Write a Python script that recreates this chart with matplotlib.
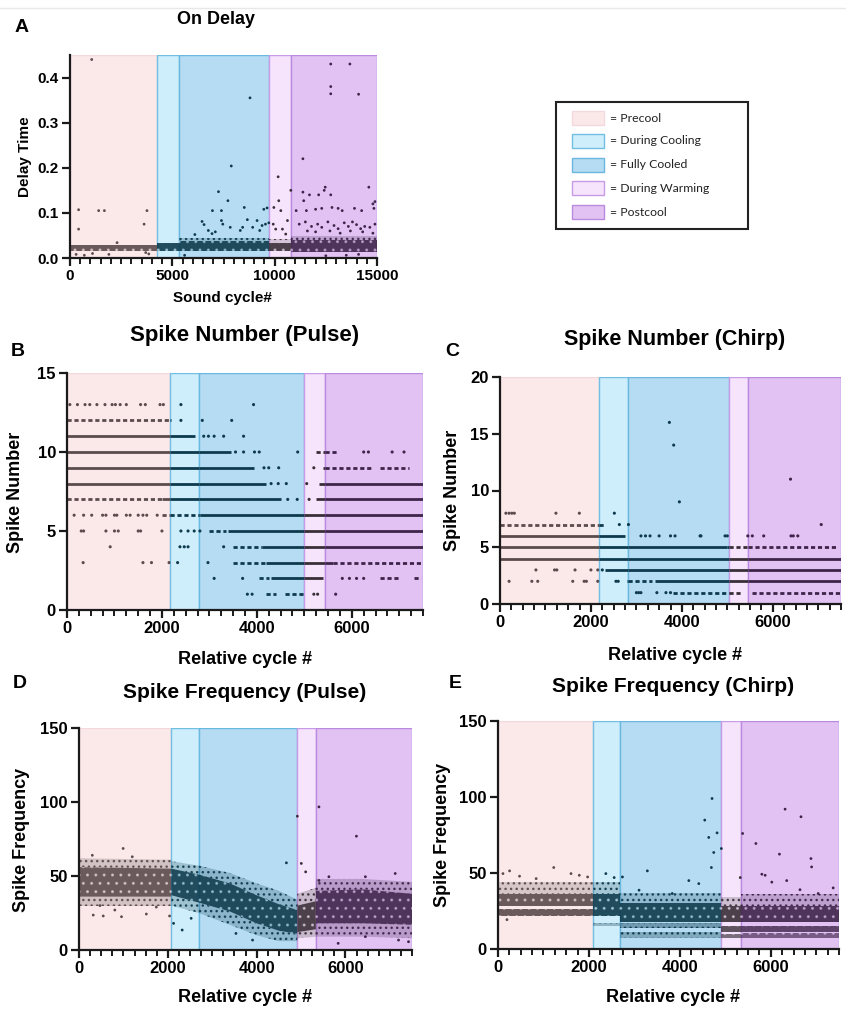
import numpy as np
import matplotlib
matplotlib.use("Agg")
import matplotlib.pyplot as plt
from matplotlib.patches import Rectangle
from matplotlib.lines import Line2D
from matplotlib.ticker import MultipleLocator
from matplotlib.colors import to_rgba

plt.rcParams['font.family'] = ['Liberation Sans', 'DejaVu Sans']
plt.rcParams['hatch.linewidth'] = 1.0

# phase shading
phase_names = ['Precool', 'During Cooling', 'Fully Cooled', 'During Warming', 'Postcool']
phase_fill = ['#fbe9ea', '#cfeefb', '#b5dcf3', '#f5e4fb', '#e1c2f3']
phase_edge = ['#f3d9dc', '#71c0e4', '#6ab7e0', '#c89be6', '#bb8ae0']
point_col = ['#5a4b4c', '#0d3a4c', '#0d3a4c', '#3a2f38', '#3e2449']

bounds_a = [0, 4240, 5320, 9730, 10810, 15000]
bounds_b = [0, 2160, 2785, 5000, 5425, 7500]
bounds_c = [0, 2180, 2805, 5030, 5450, 7500]
bounds_d = [0, 2077, 2697, 4916, 5335, 7500]
bounds_e = [0, 2080, 2693, 4913, 5336, 7500]

# ---- A: on delay ----
# dense band per phase: (lo, hi, density)
a_bands = [
    [(0.016, 0.028, 0.9)],
    [(0.015, 0.033, 0.9)],
    [(0.015, 0.037, 0.9), (0.037, 0.045, 0.3)],
    [(0.016, 0.034, 0.9), (0.034, 0.042, 0.25)],
    [(0.013, 0.040, 0.9), (0.040, 0.048, 0.3)],
]
a_x = [1060, 420, 420, 1400, 1680, 3760, 3620, 300, 700, 1100, 2300, 3700, 3850, 1900,
       6452, 6550, 6760, 6940, 7400, 7400, 7465, 6960, 7255, 7715, 7880, 7830, 8320, 8515,
       8665, 8435, 8925, 8795, 9140, 9385, 9470, 9630, 9550, 9715, 9270, 5600, 6100, 7100,
       10170, 10200, 9960, 10300, 9930, 10380, 10625, 10790, 10540, 10050,
       12740, 13675, 12740, 12740, 14100, 11380, 11380, 11420, 11700, 12150, 12470, 12420,
       12740, 14600, 11050, 11550, 12000, 12300, 12800, 13100, 13300, 13900, 14250, 14800,
       14900, 14850, 11200, 11500, 11800, 12100, 12300, 12600, 12900, 13100, 13400, 13600,
       13800, 14000, 14200, 14400, 14650, 14900, 11600, 12000, 12700, 13200, 13700, 14300,
       14800, 12500, 13500, 14100]
a_y = [0.44, 0.107, 0.064, 0.105, 0.105, 0.105, 0.075, 0.008, 0.006, 0.010, 0.034, 0.012, 0.009, 0.008,
       0.081, 0.074, 0.061, 0.054, 0.105, 0.083, 0.075, 0.105, 0.147, 0.127, 0.204, 0.068, 0.061, 0.112,
       0.085, 0.068, 0.068, 0.355, 0.083, 0.072, 0.108, 0.111, 0.075, 0.078, 0.061, 0.006, 0.052, 0.058,
       0.18, 0.127, 0.112, 0.105, 0.075, 0.064, 0.083, 0.15, 0.053, 0.064,
       0.43, 0.43, 0.38, 0.364, 0.363, 0.22, 0.146, 0.127, 0.14, 0.14, 0.157, 0.15,
       0.14, 0.157, 0.105, 0.105, 0.108, 0.11, 0.112, 0.11, 0.105, 0.11, 0.105, 0.12,
       0.125, 0.11, 0.075, 0.08, 0.07, 0.075, 0.068, 0.08, 0.072, 0.065, 0.078, 0.07,
       0.08, 0.074, 0.065, 0.07, 0.068, 0.075, 0.06, 0.058, 0.06, 0.055, 0.06, 0.058,
       0.055, 0.005, 0.006, 0.008]

# ---- B: spike number (pulse) ----
b_runs = [
    (12, 0, 2200, 'd'), (11, 0, 2700, 's'), (10, 0, 3450, 's'), (9, 0, 3950, 's'),
    (8, 0, 4200, 's'), (8, 5300, 7500, 's'),
    (7, 0, 2000, 'd'), (7, 2000, 4500, 's'), (7, 5250, 7500, 's'),
    (6, 2000, 2800, 'd'), (6, 2800, 7500, 's'),
    (5, 3000, 3350, 'd'), (5, 3400, 7500, 's'),
    (4, 3500, 4100, 'd'), (4, 4100, 7500, 's'),
    (3, 3500, 4200, 'd'), (3, 4200, 5600, 's'), (3, 5600, 7500, 'd'),
    (2, 4050, 4250, 'd'), (2, 4300, 5400, 's'), (2, 6600, 7000, 'd'), (2, 7300, 7450, 'd'),
    (1, 4200, 4400, 'd'), (1, 4600, 5000, 'd'),
    (10, 5250, 5700, 'd'), (9, 5400, 6400, 'd'), (9, 6600, 7200, 'd'),
]
b_dots = {
    13: [60, 220, 380, 480, 630, 800, 950, 1020, 1120, 1250, 1550, 1650, 1960, 2030, 2400, 3930],
    12: [2400, 2850, 3470],
    11: [2880, 2980, 3100, 3300, 3720],
    10: [3550, 3720, 3950, 4050, 4860, 6250, 6350, 6850, 7100],
    9: [4150, 4250, 4460, 5200],
    8: [4300, 4450, 4620, 5050],
    7: [4650, 4850, 5100],
    6: [150, 350, 520, 750, 820, 1000, 1050, 1250, 1330, 1500, 1600, 1680, 1900],
    5: [300, 350, 820, 1000, 1080, 1500, 1550, 2000, 2400, 2550, 2680, 2800],
    4: [910, 2380, 2470, 2550, 3300],
    3: [340, 1600, 1780, 2150, 2330, 2970],
    2: [3100, 3700, 5800, 5950, 6100, 6250],
    1: [3800, 3900, 5200, 5280, 5660],
}

# ---- C: spike number (chirp) ----
c_runs = [
    (7, 0, 2300, 'd'), (6, 0, 2750, 's'), (5, 0, 5000, 's'), (5, 5000, 7400, 'd'),
    (4, 0, 7500, 's'), (3, 2300, 7500, 's'),
    (2, 2800, 3350, 'd'), (2, 3400, 7500, 's'),
    (1, 3800, 5300, 'd'), (1, 5550, 7500, 'd'),
]
c_dots = {
    16: [3725], 14: [3820], 9: [3945], 11: [6390],
    8: [130, 200, 260, 315, 1230, 1745, 2515],
    7: [2625, 2825, 7065],
    6: [3100, 3200, 3300, 3500, 3750, 3850, 4400, 4420, 4950, 5000, 5450, 5550, 5800, 6400, 6450, 6550],
    3: [790, 1200, 1250, 1650, 2000, 2150, 2250],
    2: [200, 700, 830, 1600, 1850, 1900, 2150, 2550, 2600],
    1: [3000, 3050, 3100, 3450, 3650, 3750],
}

# ---- D: spike frequency (pulse) ----
d_pre_x = [0, 2077]
d_pre_lo, d_pre_hi = [36, 36], [56, 55]
d_pre_flo, d_pre_fhi = [30, 30], [62, 61]
d_cool_x = [2077, 2700, 3400, 4000, 4500, 4916]
d_cool_lo = [37, 32, 26, 18, 13, 11]
d_cool_hi = [55, 51, 45, 37, 31, 27]
d_cool_flo = [30, 25, 17, 10, 6, 6]
d_cool_fhi = [60, 57, 52, 45, 40, 34]
d_warm_x = [4916, 5335]
d_warm_lo, d_warm_hi = [12, 14], [30, 33]
d_warm_flo, d_warm_fhi = [8, 9], [38, 42]
d_post_x = [5335, 6400, 7500]
d_post_lo, d_post_hi = [18, 18, 17], [40, 41, 38]
d_post_flo, d_post_fhi = [9, 9, 8], [48, 48, 46]
d_x = [994, 4918, 5404, 6248, 4671, 5007, 5105, 321, 546, 807, 957, 1517, 2040, 471, 1741,
       2130, 2324, 2526, 3535, 3909, 5837, 7197, 7421, 6450, 5628, 7122, 6450, 5404, 300, 1200]
d_y = [68.6, 90.4, 96.7, 76.9, 58.9, 58.5, 52.8, 23.6, 23, 27, 22.5, 24.3, 23, 30, 29,
       18, 13.5, 21.4, 11.2, 6.7, 4.5, 6.7, 5.6, 9, 49.5, 51.7, 49.5, 47, 64, 63]

# ---- E: spike frequency (chirp) ----
# stacked bands per phase: (lo, hi, density)
e_bands = [
    [(22, 26.5, 0.9), (28, 36, 0.9), (36.5, 44, 0.3)],
    [(22, 36, 0.9), (36, 44, 0.3), (15, 17, 0.45)],
    [(18, 30, 0.9), (30, 37, 0.3), (14, 17, 0.6), (7, 11, 0.45)],
    [(18, 28, 0.9), (11, 15, 0.8), (7, 10, 0.65), (28, 34, 0.3)],
    [(18, 28, 0.9), (11.5, 15, 0.8), (7, 10.5, 0.65), (28, 36, 0.3)],
]
e_x = [4708, 4547, 4635, 4818, 4745, 4693, 4912, 5380, 5672, 6314, 6664, 6190, 6883, 6898, 3285,
       1226, 5803, 5328, 7372, 197, 109, 255, 474, 839, 1606, 1788, 1971, 2372, 2555, 2737, 3102,
       4197, 4416, 3832, 5876, 6022, 6350, 6642, 7043]
e_y = [99, 84.8, 73.4, 76.4, 63.5, 53.6, 66.1, 76, 69.4, 92, 87, 62.4, 59.5, 54, 51.4,
       53.6, 49.2, 47, 40.2, 19.3, 49.6, 51.4, 47.9, 46.3, 49.6, 48.5, 47.4, 49.6, 47, 47.4, 38.7,
       45, 43, 36.5, 48.5, 44, 45, 39, 36.5]

W, H = 846, 1009
fig = plt.figure(figsize=(W / 100, H / 100), dpi=100)


def px_axes(x0, y0, x1, y1):
    return fig.add_axes([x0 / W, 1 - y1 / H, (x1 - x0) / W, (y1 - y0) / H])


def phase_of(x, bounds):
    return int(np.clip(np.searchsorted(bounds, x, side='right') - 1, 0, 4))


def shade(ax, bounds, top):
    for i in range(5):
        ax.add_patch(Rectangle((bounds[i], 0), bounds[i + 1] - bounds[i], top,
                               facecolor=phase_fill[i], edgecolor=phase_edge[i],
                               lw=1.0, zorder=0))


def style(ax, xmax, ymax, xmajor, xminor, yticks, fs):
    ax.set_xlim(0, xmax)
    ax.set_ylim(0, ymax)
    for s in ['top', 'right']:
        ax.spines[s].set_visible(False)
    for s in ['left', 'bottom']:
        ax.spines[s].set_linewidth(1.6)
        ax.spines[s].set_color('#1a1a1a')
    ax.spines['left'].set_zorder(5)
    ax.minorticks_on()
    ax.xaxis.set_major_locator(MultipleLocator(xmajor))
    ax.xaxis.set_minor_locator(MultipleLocator(xminor))
    ax.yaxis.set_minor_locator(plt.NullLocator())
    ax.set_yticks(yticks)
    ax.tick_params(axis='both', which='major', direction='out', length=6, width=1.6,
                   labelsize=fs, pad=2, color='#1a1a1a')
    ax.tick_params(axis='x', which='minor', direction='out', length=4.5, width=1.4,
                   color='#1a1a1a', bottom=True)
    for lab in ax.get_xticklabels() + ax.get_yticklabels():
        lab.set_fontweight('bold')


def points(ax, xs, ys, bounds, s=4):
    cols = [point_col[phase_of(x, bounds)] for x in xs]
    ax.scatter(xs, ys, s=s, c=cols, linewidths=0, zorder=3)


def runs(ax, run_list, bounds):
    for y, x0, x1, kind in run_list:
        for i in range(5):
            a, b = max(x0, bounds[i]), min(x1, bounds[i + 1])
            if b <= a:
                continue
            if kind == 's':
                ax.plot([a, b], [y, y], color=point_col[i], lw=2.0, solid_capstyle='butt', zorder=2)
            else:
                ax.plot([a, b], [y, y], color=point_col[i], lw=2.0, ls=(0, (1.5, 1.0)), zorder=2)


def dots(ax, dot_map, bounds):
    xs, ys = [], []
    for lvl, xl in dot_map.items():
        xs += xl
        ys += [lvl] * len(xl)
    points(ax, xs, ys, bounds, s=5)


def speckle(ax, xs, lo, hi, i, dens):
    # dotted fill standing in for a dense point cloud
    col = point_col[i]
    if dens > 0.6:
        # dark body, background showing through as light specks
        ax.fill_between(xs, lo, hi, facecolor=to_rgba(col, dens),
                        edgecolor=to_rgba(phase_fill[i], 0.55), hatch='..', lw=0, zorder=1)
    else:
        ax.fill_between(xs, lo, hi, facecolor=to_rgba(col, dens * 0.7),
                        edgecolor=to_rgba(col, 0.9), hatch='...', lw=0, zorder=1)


def block_bands(ax, band_list, bounds):
    for i, bl in enumerate(band_list):
        for lo, hi, dens in bl:
            speckle(ax, [bounds[i], bounds[i + 1]], [lo, lo], [hi, hi], i, dens)


def cloud(ax, xs, lo, hi, flo, fhi, i):
    speckle(ax, xs, flo, lo, i, 0.35)
    speckle(ax, xs, hi, fhi, i, 0.35)
    speckle(ax, xs, lo, hi, i, 0.9)


bold = dict(fontweight='bold', ha='center', va='center')

# faint divider at the top
fig.add_artist(Line2D([0, 1], [1 - 8 / H, 1 - 8 / H], color='#e8e8e8', lw=1))

# ---- panel A ----
axA = px_axes(70, 55, 377, 258)
shade(axA, bounds_a, 0.45)
block_bands(axA, a_bands, bounds_a)
points(axA, a_x, a_y, bounds_a)
style(axA, 15000, 0.45, 5000, 500, [0.0, 0.1, 0.2, 0.3, 0.4], 11)
axA.set_yticklabels(['0.0', '0.1', '0.2', '0.3', '0.4'], fontweight='bold')
fig.text(22 / W, 1 - 28 / H, 'A', fontsize=14, **bold)
fig.text(216 / W, 1 - 20 / H, 'On Delay', fontsize=13, **bold)
fig.text(25 / W, 1 - 157 / H, 'Delay Time', fontsize=11, rotation=90, **bold)
fig.text(222 / W, 1 - 298 / H, 'Sound cycle#', fontsize=11, **bold)

# ---- panel B ----
axB = px_axes(67, 373, 423, 610)
shade(axB, bounds_b, 15)
runs(axB, b_runs, bounds_b)
dots(axB, b_dots, bounds_b)
style(axB, 7500, 15, 2000, 250, [0, 5, 10, 15], 12)
fig.text(18 / W, 1 - 352 / H, 'B', fontsize=14, **bold)
fig.text(245 / W, 1 - 336 / H, 'Spike Number (Pulse)', fontsize=16, **bold)
fig.text(15 / W, 1 - 492 / H, 'Spike Number', fontsize=13, rotation=90, **bold)
fig.text(245 / W, 1 - 660 / H, 'Relative cycle #', fontsize=13, **bold)

# ---- panel C ----
axC = px_axes(500, 377, 841, 604)
shade(axC, bounds_c, 20)
runs(axC, c_runs, bounds_c)
dots(axC, c_dots, bounds_c)
style(axC, 7500, 20, 2000, 250, [0, 5, 10, 15, 20], 12)
fig.text(452 / W, 1 - 352 / H, 'C', fontsize=14, **bold)
fig.text(675 / W, 1 - 340 / H, 'Spike Number (Chirp)', fontsize=15.5, **bold)
fig.text(452 / W, 1 - 490 / H, 'Spike Number', fontsize=13, rotation=90, **bold)
fig.text(675 / W, 1 - 655 / H, 'Relative cycle #', fontsize=13, **bold)

# ---- panel D ----
axD = px_axes(79, 728, 412, 950)
shade(axD, bounds_d, 150)
cloud(axD, d_pre_x, d_pre_lo, d_pre_hi, d_pre_flo, d_pre_fhi, 0)
cloud(axD, d_cool_x, d_cool_lo, d_cool_hi, d_cool_flo, d_cool_fhi, 2)
cloud(axD, d_warm_x, d_warm_lo, d_warm_hi, d_warm_flo, d_warm_fhi, 3)
cloud(axD, d_post_x, d_post_lo, d_post_hi, d_post_flo, d_post_fhi, 4)
points(axD, d_x, d_y, bounds_d)
style(axD, 7500, 150, 2000, 250, [0, 50, 100, 150], 12)
fig.text(20 / W, 1 - 683 / H, 'D', fontsize=14, **bold)
fig.text(245 / W, 1 - 692 / H, 'Spike Frequency (Pulse)', fontsize=15, **bold)
fig.text(22 / W, 1 - 840 / H, 'Spike Frequency', fontsize=13, rotation=90, **bold)
fig.text(245 / W, 1 - 997 / H, 'Relative cycle #', fontsize=13, **bold)

# ---- panel E ----
axE = px_axes(498, 721, 839, 949)
shade(axE, bounds_e, 150)
block_bands(axE, e_bands, bounds_e)
points(axE, e_x, e_y, bounds_e)
style(axE, 7500, 150, 2000, 250, [0, 50, 100, 150], 12)
fig.text(455 / W, 1 - 684 / H, 'E', fontsize=14, **bold)
fig.text(673 / W, 1 - 686 / H, 'Spike Frequency (Chirp)', fontsize=15, **bold)
fig.text(442 / W, 1 - 835 / H, 'Spike Frequency', fontsize=13, rotation=90, **bold)
fig.text(673 / W, 1 - 998 / H, 'Relative cycle #', fontsize=13, **bold)

# ---- phase legend ----
legx0, legy0, legx1, legy1 = 556, 102, 748, 229
fig.add_artist(Rectangle((legx0 / W, 1 - legy1 / H), (legx1 - legx0) / W, (legy1 - legy0) / H,
                         transform=fig.transFigure, facecolor='white', edgecolor='#222222', lw=1.5))
leg_y = [118, 141, 165, 188, 212]
for i, name in enumerate(phase_names):
    yc = leg_y[i]
    fig.add_artist(Rectangle((572 / W, 1 - (yc + 7) / H), 32 / W, 14 / H,
                             transform=fig.transFigure, facecolor=phase_fill[i],
                             edgecolor=phase_edge[i], lw=1.0))
    fig.text(610 / W, 1 - yc / H, '= ' + name, fontsize=8.8, ha='left', va='center',
             family=['Lato', 'DejaVu Sans'], color='#222222')

fig.savefig('out.png', dpi=100)
